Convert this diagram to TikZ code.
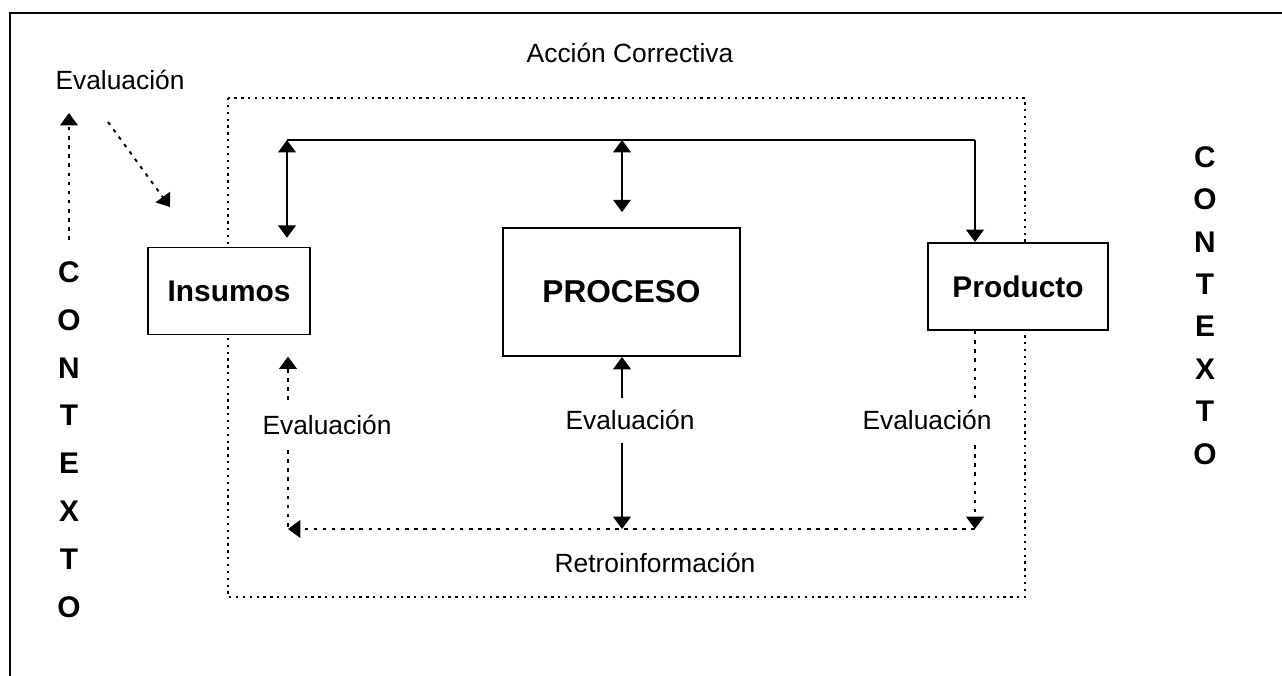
\documentclass[tikz,border=0pt]{standalone}
\usepackage{fontspec}
\setmainfont{Liberation Sans}
\usetikzlibrary{arrows.meta}
\tikzset{
  caja/.style={draw,line width=1.1pt,fill=white,font=\bfseries\fontsize{17}{20}\selectfont,inner sep=0pt},
  etiqueta/.style={font=\fontsize{15}{18}\selectfont,inner sep=1pt},
  letra/.style={font=\bfseries\fontsize{17}{18}\selectfont,inner sep=0pt},
  punta/.tip={Triangle[width=10pt,length=7pt]},
  flecha/.style={line width=1pt,-punta},
  dflecha/.style={line width=1pt,punta-punta},
  punteada/.style={line width=1.1pt,dash pattern=on 2pt off 3.2pt},
  marco/.style={line width=0.7pt,dash pattern=on 1.3pt off 2.6pt}
}
\begin{document}
\begin{tikzpicture}[x=0.02cm,y=-0.02cm]
\useasboundingbox (0,0) rectangle (1282,676);
% marco exterior
\draw[line width=1pt] (10,676) -- (10,13) -- (1282,13);
% recuadro de la accion correctiva
\draw[marco] (228,98) rectangle (1025,597);
\node[etiqueta] (accion) at (630,53) {Acción Correctiva};
\node[etiqueta] (retro) at (655,563) {Retroinformación};
% cajas
\node[caja,minimum width=3.24cm,minimum height=1.74cm] (insumos) at (229,291) {Insumos};
\node[caja,minimum width=4.74cm,minimum height=2.56cm,font=\bfseries\fontsize{18}{20}\selectfont] (proceso) at (621.5,292) {PROCESO};
\node[caja,minimum width=3.6cm,minimum height=1.74cm] (producto) at (1018,286.5) {Producto};
% contexto
\foreach \l [count=\i] in {C,O,N,T,E,X,T,O}
  \node[letra] (ctxI\i) at (69,{272+(\i-1)*47.9}) {\l};
\foreach \l [count=\i] in {C,O,N,T,E,X,T,O}
  \node[letra] (ctxD\i) at (1205,{157+(\i-1)*42.4}) {\l};
% evaluacion del contexto
\node[etiqueta] (evC) at (120,80) {Evaluación};
\coordinate (cA) at (69,240);
\coordinate (cB) at (69,113);
\coordinate (cC) at (108,122);
\coordinate (cD) at (170,207);
\draw[punteada,-punta] (cA) -- (cB);
\draw[punteada,-punta] (cC) -- (cD);
% accion correctiva
\coordinate (aI) at (287,140);
\coordinate (aM) at (622,140);
\coordinate (aD) at (975,140);
\draw[line width=1pt] (aI) -- (aD);
\draw[flecha] (aD) -- (aD |- producto.north);
\draw[dflecha] (aI) -- ([yshift=5pt]aI |- insumos.north);
\draw[dflecha] (aM) -- ([yshift=8.5pt]aM |- proceso.north);
% evaluaciones y retroinformacion
\node[etiqueta] (evI) at (327,425) {Evaluación};
\node[etiqueta] (evP) at (630,420) {Evaluación};
\node[etiqueta] (evR) at (927,420) {Evaluación};
\coordinate (rI) at (288,529);
\coordinate (rM) at (622,529);
\coordinate (rD) at (975,529);
\coordinate (iA) at (288,400);
\coordinate (iB) at (288,450);
\coordinate (pA) at (622,398);
\coordinate (pB) at (622,443);
\coordinate (dA) at (975,398);
\coordinate (dB) at (975,445);
\draw[punteada,-punta] (iA) -- ([yshift=-12pt]iA |- insumos.south);
\draw[punteada] (iB) -- (rI);
\draw[flecha] (pA) -- (pA |- proceso.south);
\draw[flecha] (pB) -- (rM);
\draw[punteada] (dA |- producto.south) -- (dA);
\draw[punteada,-punta] (dB) -- (rD);
\draw[punteada,-punta] (rD) -- (rI);
\end{tikzpicture}
\end{document}
